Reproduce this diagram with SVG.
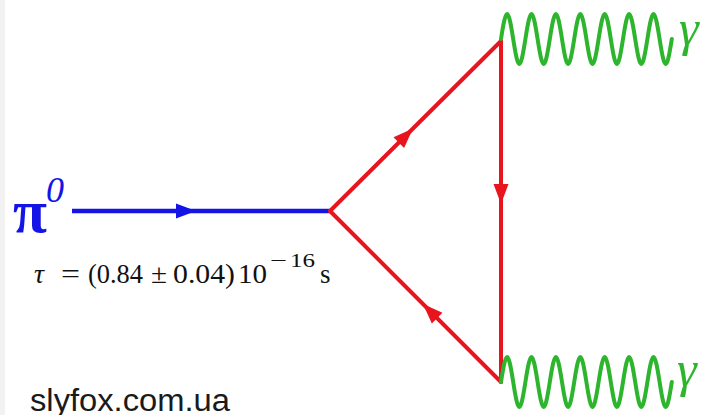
<svg xmlns="http://www.w3.org/2000/svg" width="706" height="415" viewBox="0 0 706 415">
<style>
.fermion{stroke:#e8141e;stroke-width:4;fill:none;stroke-linecap:round}
.pion{stroke:#1414e6;stroke-width:4.5;fill:none}
.photon{stroke:#2db52d;stroke-width:4;fill:none;stroke-linejoin:round;stroke-linecap:round}
.gamma{font-family:"Liberation Serif",serif;font-style:italic;font-size:50px;fill:#2db52d}
.math{font-family:"Liberation Serif",serif;fill:#111}
</style>
<defs>
<polygon id="ah" points="0,0 -20,-7.5 -20,7.5"/>
</defs>
<rect x="0" y="0" width="706" height="415" fill="#ffffff"/>
<rect x="0" y="0" width="5" height="415" fill="#f2f2f2"/>
<g id="connectors">
<line class="pion" x1="72" y1="211" x2="330" y2="211"/>
<use href="#ah" fill="#1414e6" transform="translate(196,211)"/>
<line class="fermion" x1="330" y1="211" x2="501" y2="41"/>
<use href="#ah" fill="#e8141e" transform="translate(413,128.5) rotate(-44.8)"/>
<line class="fermion" x1="501" y1="41" x2="501" y2="382"/>
<use href="#ah" fill="#e8141e" transform="translate(501,204) rotate(90)"/>
<line class="fermion" x1="501" y1="382" x2="330" y2="211"/>
<use href="#ah" fill="#e8141e" transform="translate(423,304) rotate(-135)"/>
<path class="photon" d="M501,39 c5.18,-33.3 7.02,-33.3 12.2,0 c5.18,33.3 7.02,33.3 12.2,0 c5.18,-33.3 7.02,-33.3 12.2,0 c5.18,33.3 7.02,33.3 12.2,0 c5.18,-33.3 7.02,-33.3 12.2,0 c5.18,33.3 7.02,33.3 12.2,0 c5.18,-33.3 7.02,-33.3 12.2,0 c5.18,33.3 7.02,33.3 12.2,0 c5.18,-33.3 7.02,-33.3 12.2,0 c5.18,33.3 7.02,33.3 12.2,0 c5.18,-33.3 7.02,-33.3 12.2,0 c5.18,33.3 7.02,33.3 12.2,0 c5.18,-33.3 7.02,-33.3 12.2,0 c5.18,33.3 7.02,33.3 12.2,0"/>
<path class="photon" d="M501,382 c5.18,-33.3 7.02,-33.3 12.2,0 c5.18,33.3 7.02,33.3 12.2,0 c5.18,-33.3 7.02,-33.3 12.2,0 c5.18,33.3 7.02,33.3 12.2,0 c5.18,-33.3 7.02,-33.3 12.2,0 c5.18,33.3 7.02,33.3 12.2,0 c5.18,-33.3 7.02,-33.3 12.2,0 c5.18,33.3 7.02,33.3 12.2,0 c5.18,-33.3 7.02,-33.3 12.2,0 c5.18,33.3 7.02,33.3 12.2,0 c5.18,-33.3 7.02,-33.3 12.2,0 c5.18,33.3 7.02,33.3 12.2,0 c5.18,-33.3 7.02,-33.3 12.2,0 c5.18,33.3 7.02,33.3 12.2,0"/>
</g>
<g id="pion">
<text x="13" y="232" font-family="Liberation Serif,serif" font-weight="bold" font-size="62" fill="#1414e6">π</text>
<text x="46" y="202" font-family="Liberation Serif,serif" font-style="italic" font-size="36" fill="#1414e6">0</text>
</g>
<g id="photon-top"><text class="gamma" x="679" y="45">γ</text></g>
<g id="photon-bottom"><text class="gamma" x="677" y="386">γ</text></g>
<g id="lifetime">
<text class="math" x="34" y="283" font-size="28" font-style="italic">τ</text>
<text class="math" x="61" y="283" font-size="28" textLength="19" lengthAdjust="spacingAndGlyphs">=</text>
<text class="math" x="88" y="283" font-size="27" textLength="55" lengthAdjust="spacingAndGlyphs">(0.84</text>
<text class="math" x="151" y="283" font-size="27" textLength="16" lengthAdjust="spacingAndGlyphs">±</text>
<text class="math" x="173" y="283" font-size="27" textLength="62" lengthAdjust="spacingAndGlyphs">0.04)</text>
<text class="math" x="238" y="283" font-size="27" textLength="29" lengthAdjust="spacingAndGlyphs">10</text>
<text class="math" x="270" y="267" font-size="19" textLength="17" lengthAdjust="spacingAndGlyphs">−</text>
<text class="math" x="290" y="267" font-size="19" textLength="25" lengthAdjust="spacingAndGlyphs">16</text>
<text class="math" x="320" y="283" font-size="27">s</text>
</g>
<text x="30" y="411" font-family="Liberation Sans,Arial,sans-serif" font-size="31" textLength="200" lengthAdjust="spacingAndGlyphs" fill="#1a1a1a">slyfox.com.ua</text>
</svg>
